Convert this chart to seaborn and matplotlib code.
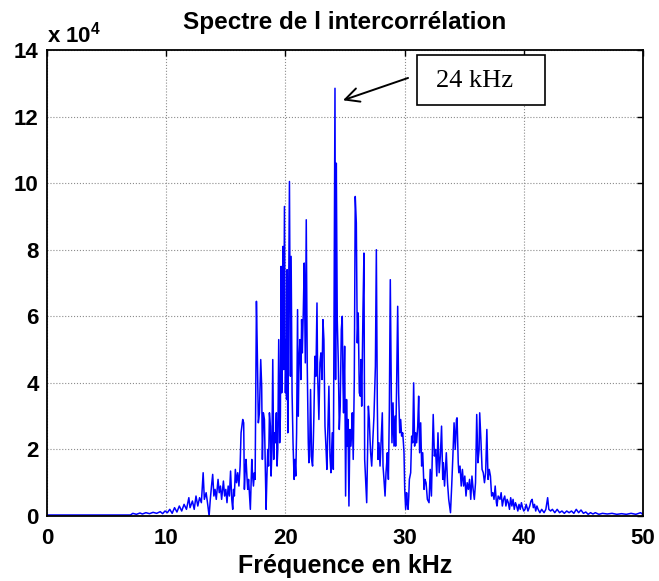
import matplotlib
matplotlib.use("Agg")
import matplotlib.pyplot as plt
import pandas as pd
import seaborn as sns
from matplotlib.patches import Rectangle
from matplotlib.transforms import offset_copy

# Cross-correlation spectrum: frequency (kHz) and magnitude (units of 1e4)
freq_khz = [
    0.0, 7.0, 7.2, 7.5, 7.8, 8.0, 8.3, 8.6, 8.9, 9.2,
    9.5, 9.7, 9.9, 10.1, 10.3, 10.5, 10.7, 10.9, 11.1, 11.3,
    11.5, 11.7, 11.9, 12.0, 12.2, 12.35, 12.5, 12.65, 12.8, 12.95,
    13.1, 13.2, 13.35, 13.5, 13.6, 13.7, 13.8, 13.9, 14.0, 14.1,
    14.2, 14.35, 14.45, 14.55, 14.65, 14.8, 14.9, 15.0, 15.1, 15.2,
    15.3, 15.4, 15.5, 15.58, 15.65, 15.72, 15.8, 15.9, 16.0, 16.1,
    16.2, 16.28, 16.42, 16.50, 16.56, 16.63, 16.70, 16.77, 16.84, 16.91,
    16.98, 17.06, 17.12, 17.18, 17.25, 17.32, 17.40, 17.46, 17.57, 17.65,
    17.73, 17.82, 17.93, 18.01, 18.07, 18.15, 18.24, 18.32, 18.38, 18.45,
    18.52, 18.59, 18.66, 18.74, 18.80, 18.87, 18.94, 19.02, 19.09, 19.16,
    19.24, 19.30, 19.36, 19.44, 19.52, 19.58, 19.64, 19.69, 19.75, 19.80,
    19.86, 19.92, 20.00, 20.06, 20.10, 20.14, 20.20, 20.25, 20.34, 20.42,
    20.48, 20.56, 20.64, 20.73, 20.80, 20.87, 20.94, 21.02, 21.08, 21.14,
    21.22, 21.30, 21.36, 21.42, 21.50, 21.58, 21.67, 21.75, 21.83, 21.92,
    21.97, 22.03, 22.11, 22.20, 22.28, 22.34, 22.39, 22.48, 22.56, 22.65,
    22.70, 22.76, 22.81, 22.90, 22.98, 23.07, 23.15, 23.23, 23.32, 23.40,
    23.48, 23.57, 23.65, 23.74, 23.82, 23.88, 23.93, 24.02, 24.07, 24.16,
    24.21, 24.27, 24.35, 24.44, 24.52, 24.60, 24.69, 24.77, 24.83, 24.88,
    24.97, 25.05, 25.13, 25.19, 25.25, 25.33, 25.41, 25.50, 25.56, 25.61,
    25.69, 25.78, 25.86, 25.95, 26.03, 26.11, 26.20, 26.28, 26.34, 26.40,
    26.51, 26.59, 26.65, 26.73, 26.82, 26.87, 26.96, 27.04, 27.10, 27.15,
    27.24, 27.30, 27.35, 27.43, 27.55, 27.63, 27.71, 27.77, 27.85, 27.94,
    28.05, 28.13, 28.19, 28.27, 28.36, 28.44, 28.50, 28.55, 28.64, 28.72,
    28.80, 28.89, 28.94, 29.03, 29.11, 29.20, 29.25, 29.33, 29.42, 29.50,
    29.59, 29.67, 29.75, 29.84, 29.90, 29.95, 30.01, 30.09, 30.17, 30.22,
    30.29, 30.35, 30.40, 30.51, 30.59, 30.68, 30.76, 30.84, 30.93, 31.01,
    31.10, 31.18, 31.26, 31.35, 31.43, 31.52, 31.63, 31.71, 31.80, 31.91,
    32.05, 32.15, 32.25, 32.40, 32.50, 32.60, 32.70, 32.80, 32.90, 33.00,
    33.10, 33.20, 33.25, 33.35, 33.50, 33.60, 33.70, 33.85, 33.95, 34.05,
    34.15, 34.25, 34.35, 34.40, 34.50, 34.55, 34.65, 34.75, 34.85, 34.95,
    35.05, 35.15, 35.25, 35.35, 35.45, 35.55, 35.65, 35.75, 35.85, 35.95,
    36.05, 36.15, 36.25, 36.30, 36.40, 36.50, 36.60, 36.70, 36.80, 36.90,
    37.00, 37.10, 37.20, 37.30, 37.40, 37.50, 37.60, 37.70, 37.75, 37.85,
    38.00, 38.10, 38.20, 38.30, 38.40, 38.50, 38.60, 38.70, 38.80, 38.90,
    39.00, 39.10, 39.20, 39.30, 39.40, 39.50, 39.60, 39.70, 39.80, 39.90,
    40.00, 40.10, 40.20, 40.35, 40.50, 40.60, 40.70, 40.80, 40.90, 41.00,
    41.10, 41.20, 41.35, 41.50, 41.70, 41.85, 42.00, 42.10, 42.25, 42.40,
    42.60, 42.80, 43.00, 43.20, 43.40, 43.60, 43.80, 44.00, 44.20, 44.40,
    44.60, 44.80, 45.00, 45.20, 45.40, 45.60, 45.80, 46.00, 46.30, 46.60,
    47.00, 47.40, 47.80, 48.20, 48.60, 49.00, 49.40, 49.80, 50.00,
]

amplitude_e4 = [
    0.03, 0.03, 0.08, 0.05, 0.09, 0.06, 0.10, 0.07, 0.11, 0.08,
    0.13, 0.07, 0.15, 0.10, 0.20, 0.08, 0.25, 0.12, 0.30, 0.15,
    0.35, 0.20, 0.55, 0.25, 0.45, 0.20, 0.60, 0.30, 0.55, 0.40,
    1.30, 0.50, 0.70, 0.30, 0.00, 0.50, 0.90, 1.25, 0.60, 0.80,
    0.50, 1.10, 0.70, 0.90, 0.50, 1.05, 0.60, 0.80, 0.40, 0.90,
    0.60, 1.35, 0.50, 0.20, 0.80, 0.60, 1.40, 1.00, 1.30, 0.90,
    1.50, 2.50, 2.90, 2.80, 0.80, 1.40, 1.70, 1.20, 0.80, 1.10,
    0.70, 0.20, 0.90, 1.70, 1.20, 0.90, 1.30, 1.10, 6.45, 4.80,
    2.80, 3.10, 4.70, 3.90, 1.70, 3.10, 2.90, 1.30, 0.20, 1.20,
    2.00, 1.50, 3.10, 2.70, 1.20, 2.00, 4.70, 1.70, 2.50, 2.20,
    3.10, 1.50, 2.00, 5.30, 2.20, 3.00, 7.50, 3.70, 5.00, 8.10,
    4.40, 9.30, 3.70, 5.30, 3.50, 7.40, 2.50, 5.40, 10.05, 4.20,
    7.80, 3.70, 2.20, 1.10, 1.70, 1.20, 2.50, 6.20, 3.00, 4.60,
    5.30, 4.10, 5.90, 4.90, 6.10, 7.60, 4.60, 8.90, 4.60, 2.20,
    1.60, 1.80, 3.80, 1.70, 1.50, 2.20, 3.00, 4.80, 4.20, 6.40,
    4.30, 3.50, 2.90, 4.60, 4.90, 4.10, 5.90, 5.30, 2.70, 2.10,
    1.40, 2.80, 3.90, 1.80, 1.30, 2.00, 2.50, 1.40, 5.10, 12.85,
    4.10, 10.60, 5.90, 4.60, 2.60, 3.30, 5.60, 6.00, 4.00, 3.10,
    5.10, 0.60, 3.50, 2.10, 2.90, 0.30, 2.60, 2.10, 2.60, 3.10,
    1.70, 4.10, 9.60, 8.80, 5.20, 6.10, 3.70, 3.60, 4.70, 3.30,
    6.20, 7.90, 1.70, 1.10, 0.40, 1.40, 3.30, 2.90, 2.30, 1.90,
    1.50, 2.00, 2.40, 3.00, 4.50, 8.00, 3.40, 1.70, 2.20, 1.50,
    2.40, 3.10, 1.50, 1.10, 0.60, 1.30, 1.60, 1.90, 1.10, 3.20,
    7.10, 3.50, 2.20, 3.40, 2.10, 3.00, 2.10, 3.90, 6.30, 3.70,
    2.50, 2.90, 2.40, 2.50, 2.20, 1.90, 0.80, 0.20, 0.70, 0.40,
    0.20, 0.60, 1.10, 1.30, 2.40, 2.20, 4.00, 2.10, 2.50, 2.20,
    2.70, 3.60, 1.90, 2.80, 1.50, 1.90, 0.80, 1.10, 1.00, 0.50,
    0.40, 1.40, 0.60, 3.05, 1.80, 2.00, 1.20, 2.50, 1.30, 1.80,
    2.70, 1.10, 1.60, 0.90, 1.90, 1.00, 0.50, 0.10, 0.90, 1.80,
    2.80, 2.00, 2.90, 2.95, 1.60, 1.30, 1.50, 0.90, 1.40, 0.90,
    1.20, 0.60, 1.00, 0.80, 1.10, 0.50, 1.20, 0.80, 0.50, 1.00,
    3.05, 1.60, 2.00, 3.10, 2.30, 1.40, 1.30, 1.00, 1.30, 2.60,
    1.10, 1.40, 1.20, 0.60, 0.70, 0.50, 0.90, 0.40, 0.30, 0.60,
    0.50, 0.70, 0.30, 0.50, 0.60, 0.30, 0.50, 0.40, 0.20, 0.55,
    0.30, 0.50, 0.20, 0.40, 0.30, 0.15, 0.35, 0.20, 0.40, 0.25,
    0.15, 0.20, 0.35, 0.15, 0.30, 0.45, 0.50, 0.25, 0.35, 0.15,
    0.30, 0.20, 0.10, 0.20, 0.10, 0.20, 0.55, 0.20, 0.15, 0.20,
    0.10, 0.20, 0.10, 0.15, 0.08, 0.15, 0.10, 0.15, 0.08, 0.20,
    0.10, 0.18, 0.08, 0.12, 0.05, 0.10, 0.06, 0.10, 0.05, 0.08,
    0.06, 0.08, 0.05, 0.07, 0.05, 0.08, 0.05, 0.10, 0.04,
]

x_ticks = [0, 10, 20, 30, 40, 50]
y_ticks = [0, 2, 4, 6, 8, 10, 12, 14]
title_text = "Spectre de l intercorrélation"
x_label_text = "Fréquence en kHz"
scale_text = r"x 10$^{\mathbf{4}}$"
peak_text = "24 kHz"

sns.set_style("white")
plt.rcParams["font.family"] = ["Liberation Sans", "DejaVu Sans"]
plt.rcParams["mathtext.fontset"] = "custom"
plt.rcParams["mathtext.rm"] = "Liberation Sans"
plt.rcParams["mathtext.bf"] = "Liberation Sans:bold"
for key in ("text.color", "axes.labelcolor", "xtick.color", "ytick.color"):
    plt.rcParams[key] = "black"

W, H = 659, 581
fig = plt.figure(figsize=(W / 100, H / 100), dpi=100)
ax = fig.add_axes([47 / W, (H - 516) / H, 596 / W, 466 / H])

spectrum = pd.DataFrame({"freq": freq_khz, "amp": amplitude_e4})
sns.lineplot(data=spectrum, x="freq", y="amp", ax=ax, color="#0000ff",
             linewidth=1.1, estimator=None, sort=False)

ax.set_xlim(0, 50)
ax.set_ylim(0, 14)
ax.set_xticks(x_ticks)
ax.set_yticks(y_ticks)
ax.set_axisbelow(True)
ax.grid(True, linestyle=":", color="#8c8c8c", linewidth=0.8)
ax.tick_params(direction="in", top=True, right=True, length=4, width=1,
               labelsize=16, colors="black")
ax.tick_params(axis="x", pad=9)
ax.tick_params(axis="y", pad=6)
for lab in ax.get_xticklabels() + ax.get_yticklabels():
    lab.set_fontweight("bold")
for sp in ax.spines.values():
    sp.set_visible(True)
    sp.set_color("black")
    sp.set_linewidth(1.3)

ax.set_xlabel(x_label_text, fontsize=18, fontweight="bold", labelpad=3,
              color="black")
ax.set_ylabel("")
ax.set_title(title_text, fontsize=17.5, fontweight="bold", pad=15,
             color="black")
ax.text(0.0, 1.017, scale_text, transform=ax.transAxes, fontsize=16,
        fontweight="bold", ha="left", va="baseline", color="black")

# Callout box and arrow pointing at the dominant peak
box = Rectangle((31.04, 12.35), 10.74, 1.5, transform=ax.transData,
                facecolor="white", edgecolor="black", linewidth=1.2,
                zorder=5, clip_on=False)
ax.add_patch(box)
ax.text(35.9, 13.07, peak_text, family=["Liberation Serif", "DejaVu Serif"],
        fontsize=19, ha="center", va="center", zorder=6, color="black")

i_peak = spectrum["amp"].idxmax()
peak_f = spectrum.loc[i_peak, "freq"]
peak_a = spectrum.loc[i_peak, "amp"]
tip = offset_copy(ax.transData, fig=fig, x=8, y=-12, units="dots")
ax.annotate("", xy=(peak_f, peak_a), xycoords=tip,
            xytext=(30.29, 13.16), textcoords="data",
            arrowprops=dict(arrowstyle="->,head_length=0.5,head_width=0.25",
                            mutation_scale=20, color="black", lw=1.4,
                            shrinkA=0, shrinkB=0),
            zorder=6)

fig.savefig("out.png", dpi=100)
